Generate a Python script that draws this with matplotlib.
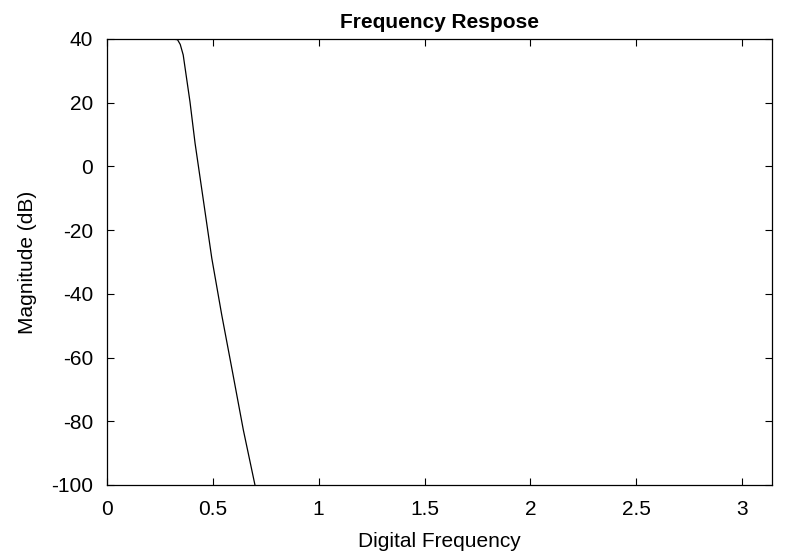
import numpy as np
import matplotlib
matplotlib.use("Agg")
import matplotlib.pyplot as plt

plt.rcParams['font.family'] = ['Liberation Sans', 'DejaVu Sans']
plt.rcParams['axes.unicode_minus'] = False

# Digital frequency (rad/sample) and magnitude (dB)
freq = [0.0, 0.10, 0.20, 0.30, 0.333, 0.346, 0.360, 0.392, 0.416,
        0.455, 0.495, 0.542, 0.594, 0.644, 0.699]
mag = [40.0, 40.0, 40.0, 40.0, 39.8, 38.3, 35.0, 20.3, 7.3,
       -10.5, -28.8, -46.6, -64.9, -82.7, -100.0]

xticks = [0, 0.5, 1, 1.5, 2, 2.5, 3]
xticklabels = ['0', '0.5', '1', '1.5', '2', '2.5', '3']
yticks = [-100, -80, -60, -40, -20, 0, 20, 40]

fig = plt.figure(figsize=(7.85, 5.58), dpi=100)
ax = fig.add_axes([107/785, 1 - 485/558, (772-107)/785, (485-39)/558])
ax.plot(freq, mag, color='black', linewidth=0.9)
ax.set_xlim(0, np.pi)
ax.set_ylim(-100, 40)
ax.set_xticks(xticks)
ax.set_xticklabels(xticklabels)
ax.set_yticks(yticks)
ax.tick_params(direction='in', top=True, right=True, length=5, width=0.8,
               labelsize=15)
ax.tick_params(axis='x', pad=11)
ax.tick_params(axis='y', pad=10)
for s in ax.spines.values():
    s.set_linewidth(0.9)
ax.set_xlabel('Digital Frequency', fontsize=15, labelpad=9)
ax.set_ylabel('Magnitude (dB)', fontsize=15, labelpad=10)
ax.set_title('Frequency Respose', fontsize=15, fontweight='bold', pad=8)
fig.savefig('out.png', dpi=100)
